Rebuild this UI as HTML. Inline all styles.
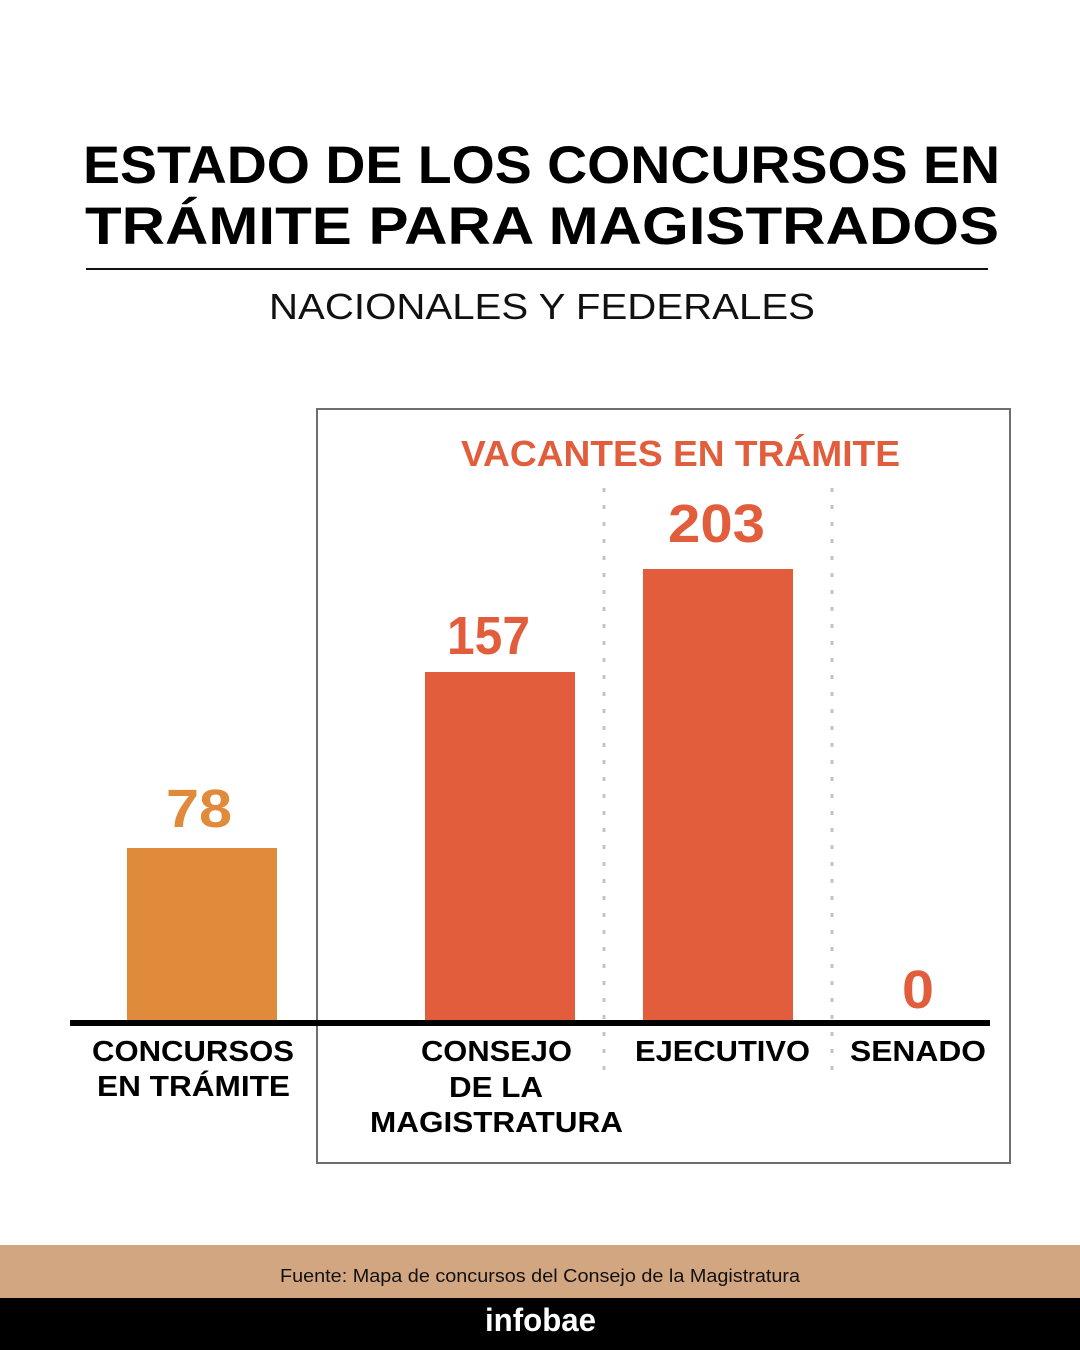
<!DOCTYPE html>
<html>
<head>
<meta charset="utf-8">
<style>
html,body{margin:0;padding:0;background:#fff;}
svg{display:block;}
text{font-family:"Liberation Sans",Arial,sans-serif;}
</style>
</head>
<body>
<svg width="1080" height="1350" viewBox="0 0 1080 1350" xmlns="http://www.w3.org/2000/svg">
<rect x="0" y="0" width="1080" height="1350" fill="#ffffff"/>

<!-- Title -->
<text x="83" y="183" font-size="53" font-weight="bold" fill="#000" textLength="917" lengthAdjust="spacingAndGlyphs">ESTADO DE LOS CONCURSOS EN</text>
<text x="85" y="244" font-size="53" font-weight="bold" fill="#000" textLength="914" lengthAdjust="spacingAndGlyphs">TRÁMITE PARA MAGISTRADOS</text>
<rect x="86" y="268" width="902" height="2" fill="#111"/>
<text x="269" y="319" font-size="36" fill="#111" textLength="546" lengthAdjust="spacingAndGlyphs">NACIONALES Y FEDERALES</text>

<!-- Box -->
<rect x="317" y="409" width="693" height="754" fill="none" stroke="#6e6e6e" stroke-width="2"/>
<text x="461" y="466" font-size="36" font-weight="bold" fill="#E25D3B" textLength="439" lengthAdjust="spacingAndGlyphs">VACANTES EN TRÁMITE</text>

<!-- dotted separators -->
<line x1="604" y1="488" x2="604" y2="1072" stroke="#c4c4c4" stroke-width="3" stroke-dasharray="4 13"/>
<line x1="832" y1="488" x2="832" y2="1072" stroke="#c4c4c4" stroke-width="3" stroke-dasharray="4 13"/>

<!-- bars -->
<rect x="127" y="848" width="150" height="174" fill="#E08A3C"/>
<rect x="425" y="672" width="150" height="350" fill="#E25D3B"/>
<rect x="643" y="569" width="150" height="453" fill="#E25D3B"/>

<!-- values -->
<text x="166" y="827" font-size="54" font-weight="bold" fill="#E08A3C" textLength="66" lengthAdjust="spacingAndGlyphs">78</text>
<text x="447" y="654" font-size="54" font-weight="bold" fill="#E25D3B" textLength="83" lengthAdjust="spacingAndGlyphs">157</text>
<text x="668" y="542" font-size="54" font-weight="bold" fill="#E25D3B" textLength="97" lengthAdjust="spacingAndGlyphs">203</text>
<text x="902" y="1008" font-size="54" font-weight="bold" fill="#E25D3B" textLength="32" lengthAdjust="spacingAndGlyphs">0</text>

<!-- baseline -->
<rect x="70" y="1020" width="920" height="6" fill="#000"/>

<!-- labels -->
<text x="92" y="1061" font-size="29" font-weight="bold" fill="#000" textLength="202" lengthAdjust="spacingAndGlyphs">CONCURSOS</text>
<text x="97" y="1096" font-size="29" font-weight="bold" fill="#000" textLength="193" lengthAdjust="spacingAndGlyphs">EN TRÁMITE</text>
<text x="421" y="1061" font-size="29" font-weight="bold" fill="#000" textLength="151" lengthAdjust="spacingAndGlyphs">CONSEJO</text>
<text x="449" y="1097" font-size="29" font-weight="bold" fill="#000" textLength="94" lengthAdjust="spacingAndGlyphs">DE LA</text>
<text x="370" y="1132" font-size="29" font-weight="bold" fill="#000" textLength="253" lengthAdjust="spacingAndGlyphs">MAGISTRATURA</text>
<text x="635" y="1061" font-size="29" font-weight="bold" fill="#000" textLength="175" lengthAdjust="spacingAndGlyphs">EJECUTIVO</text>
<text x="850" y="1061" font-size="29" font-weight="bold" fill="#000" textLength="136" lengthAdjust="spacingAndGlyphs">SENADO</text>

<!-- footer -->
<rect x="0" y="1245" width="1080" height="53" fill="#D3A682"/>
<text x="280" y="1282" font-size="18" fill="#111" textLength="520" lengthAdjust="spacingAndGlyphs">Fuente: Mapa de concursos del Consejo de la Magistratura</text>
<rect x="0" y="1298" width="1080" height="52" fill="#000"/>
<text x="485" y="1331" font-size="32" font-weight="bold" fill="#fff" textLength="111" lengthAdjust="spacingAndGlyphs">infobae</text>
</svg>
</body>
</html>
